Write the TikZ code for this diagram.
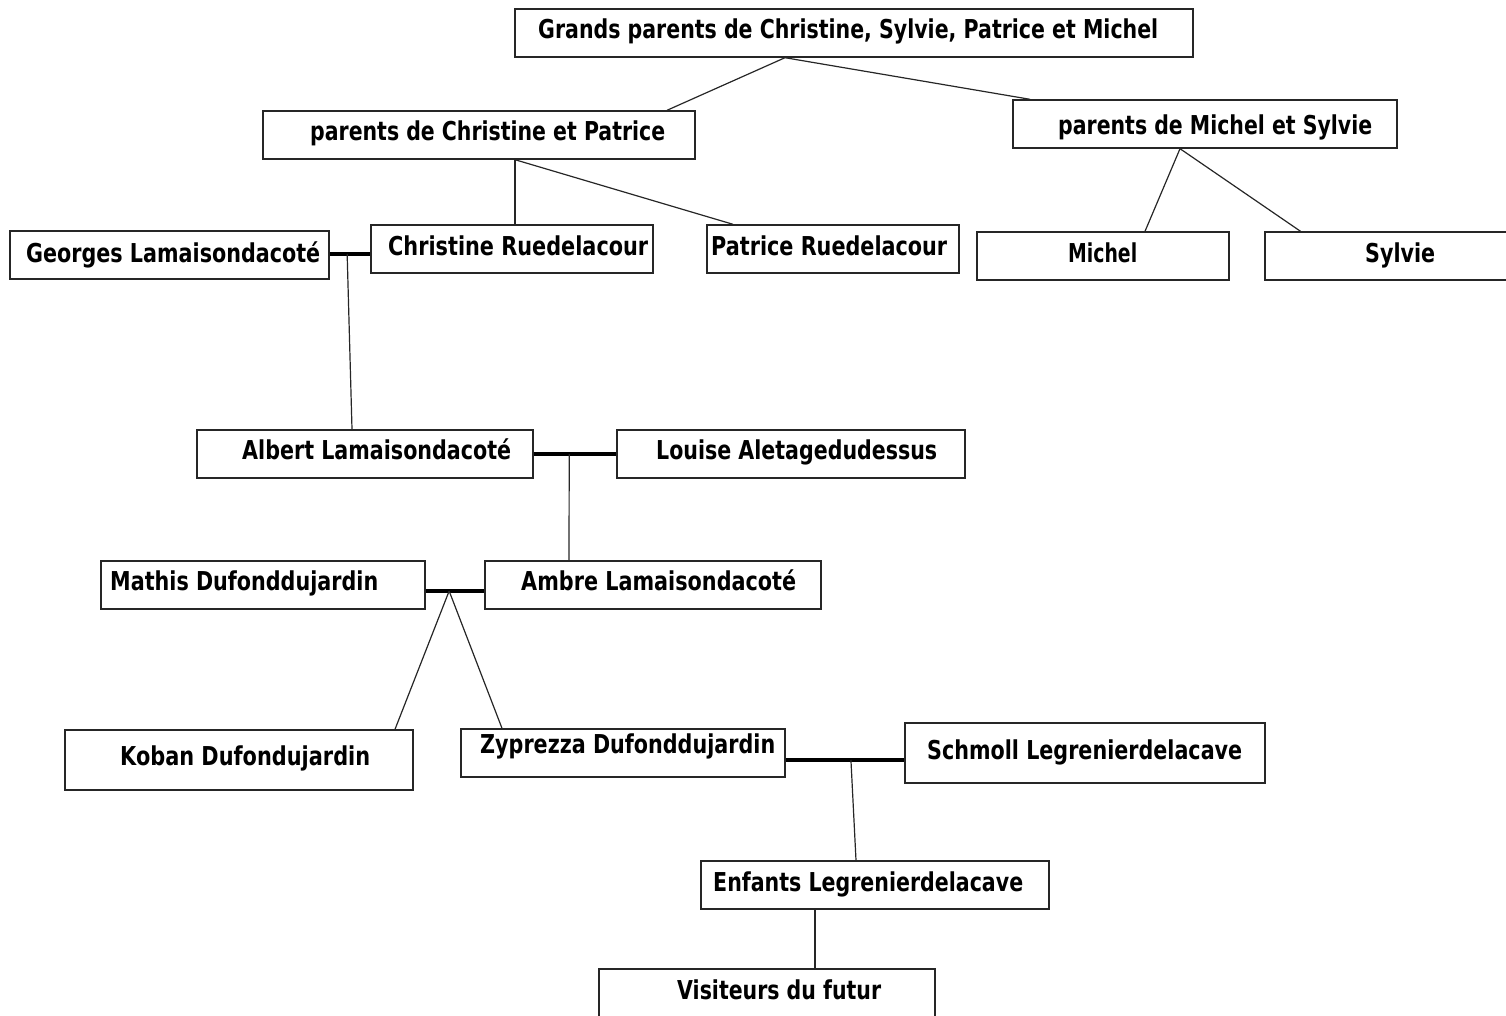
\documentclass[tikz,border=0pt]{standalone}
\usepackage{fontspec}
\setmainfont{DejaVu Sans}
\usetikzlibrary{calc}
\tikzset{
  pbx/.style={draw=black!85, line width=1.4pt, rectangle, inner sep=0pt},
  lbl/.style={anchor=base west, inner sep=0pt, font=\fontsize{26}{30}\selectfont\bfseries},
  wed/.style={line width=4.2pt, black},
  lnk/.style={line width=1.2pt, black!85}
}
\newcommand{\pbox}[5]{\node[pbx, minimum width={(#4)-(#2)}, minimum height={(#5)-(#3)}] (#1) at ({((#2)+(#4))/2},{((#3)+(#5))/2}) {};}
\newcommand{\ptext}[5]{\node[lbl] (#1) at (#2,#4) {\resizebox{\dimexpr#3pt-#2pt\relax}{\height}{#5}};}
\begin{document}
\begin{tikzpicture}[x=1pt,y=-1pt]
\useasboundingbox (0,0) rectangle (1506,1016);
% boxes
\pbox{gp}{515}{9}{1193}{57}
\pbox{pcp}{263}{111}{695}{159}
\pbox{pms}{1013}{100}{1397}{148}
\pbox{georges}{10}{231}{329}{279}
\pbox{christine}{371}{225}{653}{273}
\pbox{patrice}{707}{225}{959}{273}
\pbox{michel}{977}{232}{1229}{280}
\pbox{sylvie}{1265}{232}{1508}{280}
\pbox{albert}{197}{430}{533}{478}
\pbox{louise}{617}{430}{965}{478}
\pbox{mathis}{101}{561}{425}{609}
\pbox{ambre}{485}{561}{821}{609}
\pbox{koban}{65}{730}{413}{790}
\pbox{zyp}{461}{729}{785}{777}
\pbox{schmoll}{905}{723}{1265}{783}
\pbox{enfants}{701}{861}{1049}{909}
\pbox{visit}{599}{969}{935}{1020}
% texts
\ptext{tgp}{538}{1158}{39}{Grands parents de Christine, Sylvie, Patrice et Michel}
\ptext{tpcp}{310}{665}{141}{parents de Christine et Patrice}
\ptext{tpms}{1058}{1372}{135}{parents de Michel et Sylvie}
\ptext{tgeorges}{26}{320}{262}{Georges Lamaisondacoté}
\ptext{tchristine}{388}{648}{255}{Christine Ruedelacour}
\ptext{tpatrice}{711}{947}{255}{Patrice Ruedelacour}
\ptext{tmichel}{1068}{1137}{262}{Michel}
\ptext{tsylvie}{1365}{1435}{262}{Sylvie}
\ptext{talbert}{242}{511}{459}{Albert Lamaisondacoté}
\ptext{tlouise}{656}{937}{459}{Louise Aletagedudessus}
\ptext{tmathis}{110}{378}{590}{Mathis Dufonddujardin}
\ptext{tambre}{521}{796}{590}{Ambre Lamaisondacoté}
\ptext{tkoban}{120}{370}{765}{Koban Dufondujardin}
\ptext{tzyp}{480}{775}{753}{Zyprezza Dufonddujardin}
\ptext{tschmoll}{927}{1242}{759}{Schmoll Legrenierdelacave}
\ptext{tenfants}{713}{1023}{891}{Enfants Legrenierdelacave}
\ptext{tvisit}{677}{881}{999}{Visiteurs du futur}
% descent links
\draw[lnk] ([xshift=-69pt]gp.south) -- ([xshift=188pt]pcp.north);
\draw[lnk] ([xshift=-69pt]gp.south) -- ([xshift=-175pt]pms.north);
\draw[lnk] ([xshift=36pt]pcp.south) -- ([xshift=3pt]christine.north);
\draw[lnk] ([xshift=36pt]pcp.south) -- ([xshift=-100pt]patrice.north);
\draw[lnk] ([xshift=-25pt]pms.south) -- ([xshift=42pt]michel.north);
\draw[lnk] ([xshift=-25pt]pms.south) -- ([xshift=-86pt]sylvie.north);
% marriages
\draw[wed] ([yshift=1pt]georges.east) -- ([yshift=1pt]georges.east -| christine.west);
\coordinate (m1) at ($([yshift=1pt]georges.east)!0.43!([yshift=1pt]georges.east -| christine.west)$);
\draw[lnk] (m1) -- ([xshift=-13pt]albert.north);
\draw[wed] (albert.east) -- (louise.west);
\coordinate (m2) at ($(albert.east)!0.43!(louise.west)$);
\draw[lnk] (m2) -- ([xshift=-84pt]ambre.north);
\draw[wed] ([yshift=-6pt]mathis.east) -- ([yshift=-6pt]ambre.west);
\coordinate (m3) at ($([yshift=-6pt]mathis.east)!0.4!([yshift=-6pt]ambre.west)$);
\draw[lnk] (m3) -- ([xshift=156pt]koban.north);
\draw[lnk] (m3) -- ([xshift=-121pt]zyp.north);
\draw[wed] ([yshift=-7pt]zyp.east) -- ([yshift=-7pt]schmoll.west);
\coordinate (m4) at ($([yshift=-7pt]zyp.east)!0.55!([yshift=-7pt]schmoll.west)$);
\draw[lnk] (m4) -- ([xshift=-19pt]enfants.north);
\draw[lnk] ([xshift=-60pt]enfants.south) -- ([xshift=48pt]visit.north);
\end{tikzpicture}
\end{document}
